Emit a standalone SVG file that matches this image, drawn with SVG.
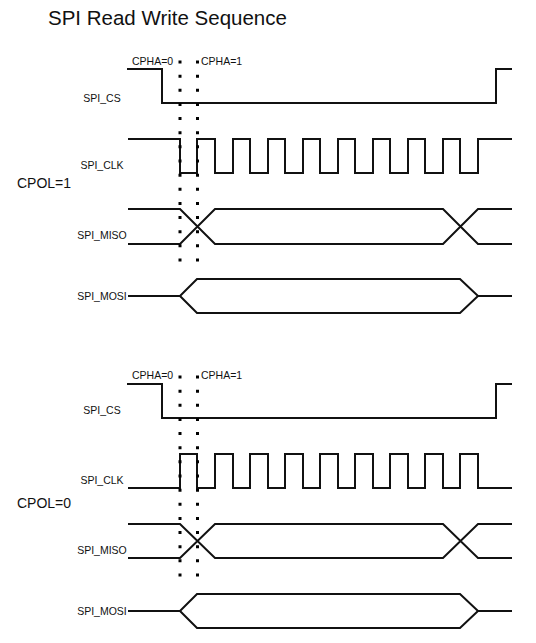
<svg xmlns="http://www.w3.org/2000/svg" width="536" height="643" viewBox="0 0 536 643">
<style>
text{font-family:"Liberation Sans",Arial,sans-serif;fill:#111}
.lbl{font-size:10.5px;text-anchor:middle}
.cpha{font-size:10.5px}
.cpol{font-size:14px}
.title{font-size:20.5px}
.w{fill:none;stroke:#111;stroke-width:2;stroke-linejoin:miter}
.dot{fill:none;stroke:#000;stroke-width:3;stroke-dasharray:3 11.143}
</style>
<rect width="536" height="643" fill="#fff"/>
<text class="title" x="48" y="25">SPI Read Write Sequence</text>

<g id="section-cpol1">
  <text class="cpol" x="17" y="188">CPOL=1</text>
  <g id="cs1">
    <text class="lbl" x="102" y="102">SPI_CS</text>
    <path class="w" d="M127,69 H162 V103 H496 V69 H512"/>
    <text class="cpha" x="132" y="64.5">CPHA=0</text>
    <text class="cpha" x="201" y="64.5">CPHA=1</text>
  </g>
  <g id="clk1">
    <text class="lbl" x="102" y="169">SPI_CLK</text>
    <path class="w" d="M128,139 H180 V173 H197 V139 H215 V173 H233 V139 H250 V173 H268 V139 H285 V173 H303 V139 H320 V173 H338 V139 H355 V173 H373 V139 H390 V173 H408 V139 H425 V173 H443 V139 H460 V173 H478 V139 H512"/>
  </g>
  <g id="miso1">
    <text class="lbl" x="102" y="239">SPI_MISO</text>
    <path class="w" d="M128,209 H180 L215,244 H443 L478,209 H512 M128,244 H180 L215,209 H443 L478,244 H512"/>
  </g>
  <g id="mosi1">
    <text class="lbl" x="102" y="300">SPI_MOSI</text>
    <path class="w" d="M128,296 H180 L197,279 H460 L478,296 H512 M180,296 L197,313 H460 L478,296"/>
  </g>
</g>

<g id="section-cpol0">
  <text class="cpol" x="17" y="508">CPOL=0</text>
  <g id="cs0">
    <text class="lbl" x="102" y="414">SPI_CS</text>
    <path class="w" d="M127,384 H162 V418 H496 V384 H512"/>
    <text class="cpha" x="132" y="379">CPHA=0</text>
    <text class="cpha" x="201" y="379">CPHA=1</text>
  </g>
  <g id="clk0">
    <text class="lbl" x="102" y="484">SPI_CLK</text>
    <path class="w" d="M128,488 H180 V454 H197 V488 H215 V454 H233 V488 H250 V454 H268 V488 H285 V454 H303 V488 H320 V454 H338 V488 H355 V454 H373 V488 H390 V454 H408 V488 H425 V454 H443 V488 H460 V454 H478 V488 H512"/>
  </g>
  <g id="miso0">
    <text class="lbl" x="102" y="554">SPI_MISO</text>
    <path class="w" d="M128,524 H180 L215,558 H443 L478,524 H512 M128,558 H180 L215,524 H443 L478,558 H512"/>
  </g>
  <g id="mosi0">
    <text class="lbl" x="102" y="615">SPI_MOSI</text>
    <path class="w" d="M128,611 H180 L197,594 H460 L478,611 H512 M180,611 L197,628 H460 L478,611"/>
  </g>
</g>

<g id="connectors">
  <line class="dot" x1="180" y1="60.5" x2="180" y2="262"/>
  <line class="dot" x1="197.5" y1="60.5" x2="197.5" y2="262"/>
  <line class="dot" x1="180" y1="375.5" x2="180" y2="577"/>
  <line class="dot" x1="197.5" y1="375.5" x2="197.5" y2="577"/>
</g>
</svg>
